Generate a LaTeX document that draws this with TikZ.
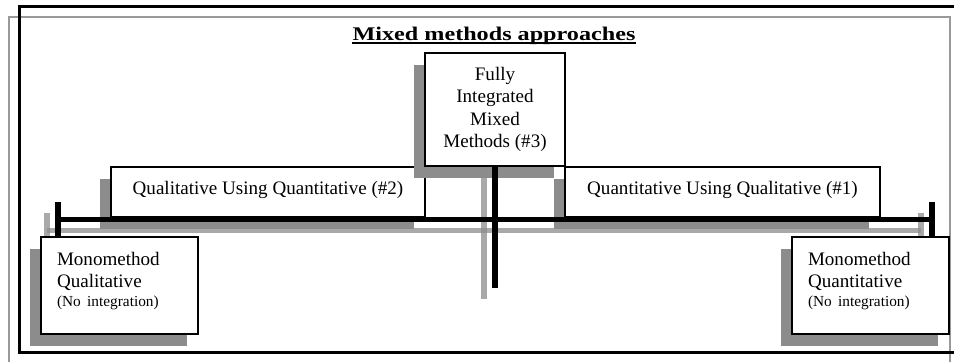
\documentclass[tikz,border=0pt]{standalone}
\usepackage{fontspec}
\setmainfont{Liberation Serif}
\newfontfamily\titlefont[FakeStretch=1.25]{Liberation Serif}
\usetikzlibrary{shadows}
\tikzstyle{box}=[draw, fill=white, line width=1pt, inner sep=0, font=\fontsize{14.3}{16.8}\selectfont, drop shadow={shadow xshift=-8.5pt, shadow yshift=-9pt, fill=black!45, opacity=1}]
\tikzstyle{widebox}=[box, minimum width=235.5pt, minimum height=37.5pt, text depth=6.5pt]
\tikzstyle{monobox}=[box, minimum width=117.75pt, minimum height=72.75pt, text width=93.75pt, align=left, text depth=40pt]
\tikzstyle{title}=[anchor=base, inner sep=0, font=\titlefont\bfseries\fontsize{14.5}{17}\selectfont]
\tikzstyle{blackbar}=[black, line width=4pt]
\tikzstyle{graybar}=[black!45, line width=4pt, opacity=.75]
\tikzstyle{grayframe}=[black!40, line width=1.5pt]
\tikzstyle{blackframe}=[black, line width=2.25pt]
\newcommand{\smalltext}{\fontsize{11.5}{14}\selectfont}
\newcommand{\drawbars}[2]{
  \draw[#1] ([shift={#2}]L) -- ([shift={#2}]R);
  \draw[#1] ([shift={#2}]L) ++(0,-17.5) -- ++(0,35);
  \draw[#1] ([shift={#2}]R) ++(0,-17.5) -- ++(0,35);
  \draw[#1] ([shift={#2}]FI.south) -- ([shift={#2}]B);
}
\begin{document}
\begin{tikzpicture}[x=0.75pt, y=-0.75pt]
  \useasboundingbox (0,0) rectangle (954,361);
  \draw[grayframe] (9,17) rectangle (950,380);
  \draw[blackframe] (19,6) rectangle (975,352);
  \node[title] (T) at (494,40) {Mixed methods approaches};
  \draw[line width=1.5pt] ([yshift=-2.5pt]T.base west) -- ([yshift=-2.5pt]T.base east);
  \node[widebox] (QL) at (268,192) {Qualitative Using Quantitative (\#2)};
  \node[widebox, minimum width=236.25pt] (QN) at (722.5,192) {Quantitative Using Qualitative (\#1)};
  \node[box, minimum width=105pt, minimum height=84.75pt, align=center] (FI) at (495,109.5) {Fully\\Integrated\\Mixed\\Methods (\#3)};
  \coordinate (L) at (58,219.5);
  \coordinate (R) at (932,219.5);
  \coordinate (B) at (495,288);
  \drawbars{graybar}{(-11,11)}
  \drawbars{blackbar}{(0,0)}
  \node[monobox] (MQL) at (119.5,285.5) {Monomethod\\Qualitative\\[-3pt]{\smalltext (No integration)}};
  \node[monobox] (MQN) at (870.5,285.5) {Monomethod\\Quantitative\\[-3pt]{\smalltext (No integration)}};
\end{tikzpicture}
\end{document}
